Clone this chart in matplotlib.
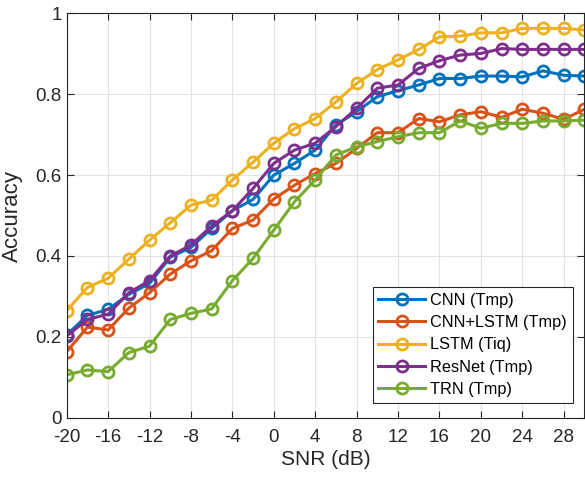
import matplotlib.pyplot as plt

plt.rcParams['font.family'] = ['Liberation Sans', 'DejaVu Sans']
plt.rcParams['axes.unicode_minus'] = False

snr = list(range(-20, 31, 2))

cnn = [0.205, 0.253, 0.268, 0.305, 0.332, 0.397, 0.421, 0.468, 0.512, 0.540, 0.600,
       0.629, 0.662, 0.724, 0.757, 0.794, 0.809, 0.823, 0.839, 0.839, 0.845, 0.845,
       0.843, 0.858, 0.847, 0.845]
cnn_lstm = [0.163, 0.224, 0.217, 0.271, 0.309, 0.355, 0.388, 0.413, 0.468, 0.489, 0.541,
            0.575, 0.604, 0.629, 0.666, 0.705, 0.705, 0.740, 0.732, 0.749, 0.757, 0.743,
            0.763, 0.753, 0.738, 0.763]
lstm = [0.265, 0.322, 0.345, 0.392, 0.439, 0.482, 0.526, 0.538, 0.588, 0.632, 0.679,
        0.715, 0.740, 0.781, 0.827, 0.861, 0.885, 0.911, 0.942, 0.944, 0.952, 0.952,
        0.963, 0.963, 0.963, 0.959]
resnet = [0.202, 0.243, 0.256, 0.309, 0.339, 0.400, 0.427, 0.474, 0.512, 0.567, 0.629,
          0.662, 0.679, 0.720, 0.765, 0.815, 0.823, 0.864, 0.883, 0.897, 0.901, 0.913,
          0.911, 0.911, 0.911, 0.911]
trn = [0.106, 0.118, 0.114, 0.161, 0.177, 0.243, 0.258, 0.269, 0.339, 0.394, 0.464,
       0.534, 0.588, 0.650, 0.670, 0.683, 0.695, 0.705, 0.705, 0.734, 0.716, 0.728,
       0.728, 0.734, 0.734, 0.736]

series = [
    ('CNN (Tmp)', cnn, '#0072BD'),
    ('CNN+LSTM (Tmp)', cnn_lstm, '#D95319'),
    ('LSTM (Tiq)', lstm, '#EDB120'),
    ('ResNet (Tmp)', resnet, '#7E2F8E'),
    ('TRN (Tmp)', trn, '#77AC30'),
]

fig = plt.figure(figsize=(5.85, 4.79), dpi=100)
ax = fig.add_axes([0.114, 0.128, 0.885, 0.844])

for name, vals, col in series:
    ax.plot(snr, vals, '-o', color=col, lw=2.2, ms=8, mfc='none', mew=2.0, label=name)

ax.set_xlim(-20, 30)
ax.set_ylim(0, 1)
ax.set_xticks(range(-20, 29, 4))
ax.set_yticks([0, 0.2, 0.4, 0.6, 0.8, 1])
ax.set_yticklabels(['0', '0.2', '0.4', '0.6', '0.8', '1'])
ax.tick_params(direction='in', top=True, right=True, labelsize=13.5, colors='#262626',
               length=5, width=0.8)
ax.tick_params(axis='x', pad=8)
ax.grid(True, color='#e3e3e3', lw=0.8)
for s in ax.spines.values():
    s.set_color('#262626')
    s.set_linewidth(0.8)

ax.set_xlabel('SNR (dB)', fontsize=15, color='#262626', labelpad=3)
ax.set_ylabel('Accuracy', fontsize=16, color='#262626', labelpad=9)

leg = ax.legend(loc='lower right', bbox_to_anchor=(0.977, 0.037), fontsize=11.7,
                fancybox=False, framealpha=1, edgecolor='#262626', handlelength=2.9,
                borderpad=0.35, labelspacing=0.45, handletextpad=0.3, borderaxespad=0)
leg.get_frame().set_linewidth(0.8)

fig.savefig('out.png', dpi=100)
